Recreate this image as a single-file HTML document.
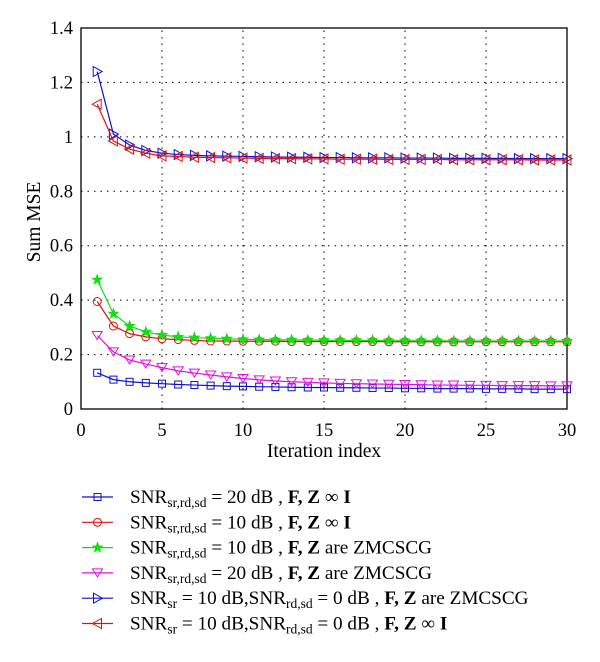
<!DOCTYPE html>
<html><head><meta charset="utf-8"><style>
body{margin:0;background:#fff;width:600px;height:657px;overflow:hidden}
svg text{font-family:"Liberation Serif",serif;fill:#000}
</style></head><body>
<svg id="c" width="600" height="657"></svg>
<script>
const xTicks=[0,5,10,15,20,25,30];
const yTicks=[0,0.2,0.4,0.6,0.8,1,1.2,1.4];
const yTickLabels=["0","0.2","0.4","0.6","0.8","1","1.2","1.4"];
const iters=[1,2,3,4,5,6,7,8,9,10,11,12,13,14,15,16,17,18,19,20,21,22,23,24,25,26,27,28,29,30];
const sBlueSq=[0.133,0.108,0.1,0.096,0.093,0.09,0.088,0.086,0.084,0.083,0.082,0.081,0.08,0.079,0.079,0.078,0.078,0.077,0.077,0.076,0.076,0.075,0.075,0.075,0.074,0.074,0.074,0.073,0.073,0.073];
const sRedCirc=[0.395,0.305,0.277,0.265,0.258,0.255,0.252,0.25,0.25,0.249,0.249,0.249,0.248,0.248,0.248,0.248,0.248,0.248,0.247,0.247,0.247,0.247,0.247,0.247,0.247,0.247,0.247,0.247,0.247,0.247];
const sGreen=[0.475,0.35,0.305,0.283,0.272,0.265,0.262,0.26,0.258,0.256,0.255,0.254,0.254,0.253,0.253,0.252,0.252,0.252,0.251,0.251,0.251,0.251,0.25,0.25,0.25,0.25,0.25,0.25,0.25,0.25];
const sMagenta=[0.27,0.21,0.18,0.165,0.152,0.14,0.132,0.125,0.118,0.112,0.107,0.103,0.1,0.098,0.096,0.094,0.093,0.092,0.091,0.09,0.089,0.088,0.088,0.087,0.087,0.086,0.086,0.086,0.085,0.085];
const sBlueTri=[1.24,1.01,0.97,0.95,0.94,0.935,0.932,0.93,0.929,0.928,0.927,0.926,0.925,0.925,0.924,0.924,0.923,0.923,0.923,0.922,0.922,0.922,0.921,0.921,0.921,0.921,0.92,0.92,0.92,0.92];
const sRedTri=[1.12,0.985,0.955,0.94,0.93,0.928,0.925,0.924,0.923,0.922,0.921,0.92,0.92,0.919,0.919,0.918,0.918,0.918,0.917,0.917,0.917,0.917,0.916,0.916,0.916,0.916,0.916,0.915,0.915,0.915];
const legendLabels=[
 ['SNR','sr,rd,sd',' = 20 dB , ','F, Z',' ∞ ','I',''],
 ['SNR','sr,rd,sd',' = 10 dB , ','F, Z',' ∞ ','I',''],
 ['SNR','sr,rd,sd',' = 10 dB , ','F, Z',' are ZMCSCG','',''],
 ['SNR','sr,rd,sd',' = 20 dB , ','F, Z',' are ZMCSCG','',''],
 ['SNR','sr',' = 10 dB,SNR','rd,sd',' = 0 dB , ','F, Z',' are ZMCSCG'],
 ['SNR','sr',' = 10 dB,SNR','rd,sd',' = 0 dB , ','F, Z',' ∞ I']
];
const NS="http://www.w3.org/2000/svg";
const svg=document.getElementById('c');
const X0=81,X1=567,Y0=409,Y1=28;
const sx=v=>X0+(v-0)/(30-0)*(X1-X0);
const sy=v=>Y0-(v-0)/(1.4-0)*(Y0-Y1);
function mk(t,a,p){const e=document.createElementNS(NS,t);for(const k in a)e.setAttribute(k,a[k]);(p||svg).appendChild(e);return e;}
xTicks.forEach((t,i)=>{
 if(i>0&&i<xTicks.length-1){const g=mk('line',{x1:sx(t),x2:sx(t),y1:Y0,y2:Y1,stroke:'#000','stroke-dasharray':'1.5,5','stroke-width':1});
 
 }
 const l=mk('text',{x:sx(t),y:Y0+27,'text-anchor':'middle','font-size':18.5});l.textContent=t;
 
 
});
yTicks.forEach((t,i)=>{
 if(i>0&&i<yTicks.length-1){const g=mk('line',{x1:X0,x2:X1,y1:sy(t),y2:sy(t),stroke:'#000','stroke-dasharray':'1.5,5','stroke-width':1});
 
 }
 const l=mk('text',{x:X0-8,y:sy(t)+6,'text-anchor':'end','font-size':18.5});l.textContent=yTickLabels[i];
 
 
});
const fr=mk('rect',{x:X0,y:Y1,width:X1-X0,height:Y0-Y1,fill:'none',stroke:'#000','stroke-width':1.3});


const xt=mk('text',{x:(X0+X1)/2,y:457,'text-anchor':'middle','font-size':19.5});xt.textContent='Iteration index';


const yt=mk('text',{x:0,y:0,'text-anchor':'middle','font-size':19.5,transform:'translate(40,222) rotate(-90)'});yt.textContent='Sum MSE';


function marker(kind,x,y,c,p){
 let e;
 if(kind==='sq')e=mk('rect',{x:x-3.5,y:y-3.5,width:7,height:7,fill:'none',stroke:c},p);
 else if(kind==='circ')e=mk('circle',{cx:x,cy:y,r:4,fill:'none',stroke:c},p);
 else if(kind==='star')e=mk('polygon',{points:[0,1,2,3,4,5,6,7,8,9].map(i=>{const a=-Math.PI/2+i*Math.PI/5,rr=i%2?2:5;return (x+rr*Math.cos(a))+','+(y+rr*Math.sin(a));}).join(' '),fill:c,stroke:c},p);
 else if(kind==='down')e=mk('polygon',{points:`${x-5},${y-4} ${x+5},${y-4} ${x},${y+4}`,fill:'none',stroke:c},p);
 else if(kind==='right')e=mk('polygon',{points:`${x-4},${y-5} ${x-4},${y+5} ${x+5},${y}`,fill:'none',stroke:c},p);
 else e=mk('polygon',{points:`${x+4},${y-5} ${x+4},${y+5} ${x-5},${y}`,fill:'none',stroke:c},p);
 return e;
}
const series=[[sBlueSq,'#1010d0','sq'],[sRedCirc,'#e01010','circ'],[sGreen,'#10e010','star'],[sMagenta,'#e010e0','down'],[sBlueTri,'#1010d0','right'],[sRedTri,'#e01010','left']];
const names=['series-blue-square','series-red-circle','series-green-star','series-magenta-triangle','series-blue-right-triangle','series-red-left-triangle'];
series.forEach((s,k)=>{
 const g=mk('g',{});
 
 
 mk('polyline',{points:s[0].map((v,i)=>sx(iters[i])+','+sy(v)).join(' '),fill:'none',stroke:s[1],'stroke-width':1.2},g);
 s[0].forEach((v,i)=>{const m=marker(s[2],sx(iters[i]),sy(v),s[1],g);
  
  });
});
legendLabels.forEach((parts,k)=>{
 const y=497+k*25.3;const c=series[k][1];
 const g=mk('g',{});
 
 
 mk('line',{x1:82,x2:113,y1:y,y2:y,stroke:c,'stroke-width':1.2},g);
 marker(series[k][2],97.5,y,c,g);
 const t=mk('text',{x:130,y:y+6,'font-size':19.2},g);
 const bold=new Set(['F, Z','I']);
 parts.forEach((p,i)=>{if(!p)return;
  const ts=mk('tspan',{},t);
  if(i===1||(i===3&&k>=4)){ts.setAttribute('font-size',13.5);ts.setAttribute('dy',4);}
  else if(i===2||(i===4&&k>=4)){ts.setAttribute('dy',-4);}
  if(bold.has(p))ts.setAttribute('font-weight','bold');
  if(p===' ∞ I'){ts.textContent=' ∞ ';const b=mk('tspan',{'font-weight':'bold'},t);b.textContent='I';return;}
  ts.textContent=p;});
});
</script>
</body></html>
